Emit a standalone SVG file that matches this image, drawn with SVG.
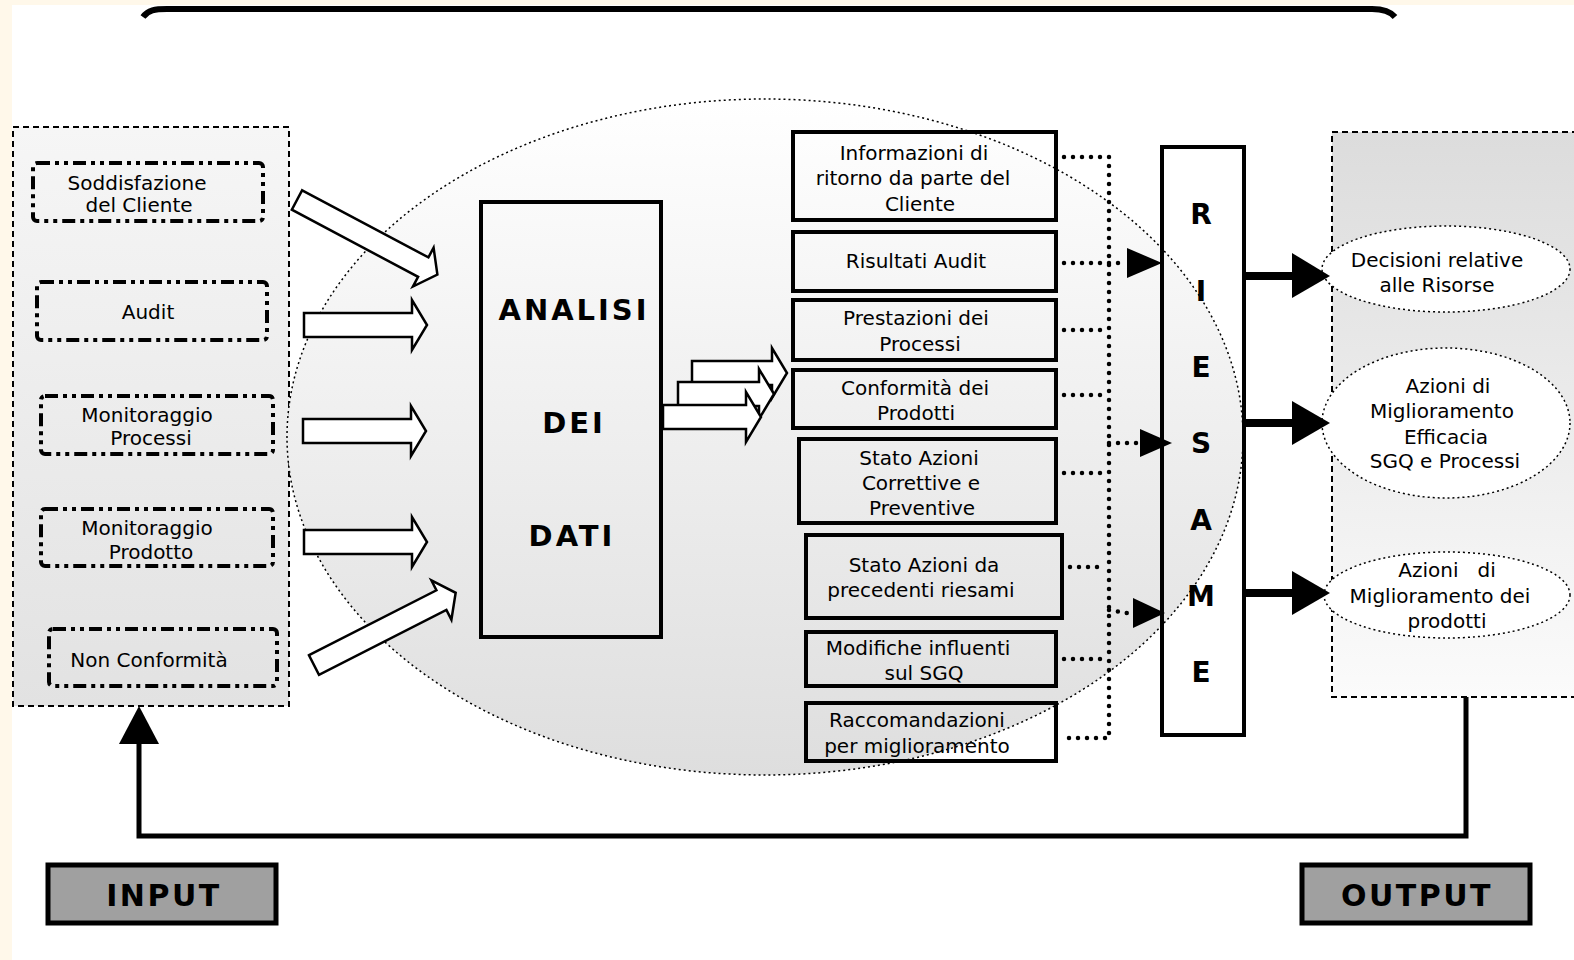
<svg xmlns="http://www.w3.org/2000/svg" width="1574" height="960" viewBox="0 0 1574 960">
<defs>
<linearGradient id="gIn" x1="0" y1="0" x2="0" y2="1"><stop offset="0" stop-color="#f6f6f6"/><stop offset="1" stop-color="#e2e2e2"/></linearGradient>
<linearGradient id="gOut" x1="0" y1="0" x2="0" y2="1"><stop offset="0" stop-color="#dcdcdc"/><stop offset="1" stop-color="#fbfbfb"/></linearGradient>
<linearGradient id="gEl" x1="0" y1="0" x2="0" y2="1"><stop offset="0" stop-color="#ffffff"/><stop offset="1" stop-color="#dedede"/></linearGradient>
<style>
text{font-family:"DejaVu Sans",Verdana,sans-serif;fill:#000}
.t{font-size:20px;text-anchor:middle}
.b{font-weight:bold;text-anchor:middle}
.panel{stroke:#000;stroke-width:2;stroke-dasharray:6 4}
.dd{fill:none;stroke:#000;stroke-width:4;stroke-dasharray:13 5 4 5 4 5}
.box{fill:none;stroke:#000;stroke-width:4}
.blk{fill:#fff;stroke:#000;stroke-width:2.5;stroke-linejoin:miter}
.dot{fill:none;stroke:#000;stroke-width:4.5;stroke-linecap:round;stroke-dasharray:0 9}
.ell{stroke:#000;stroke-width:1.5;stroke-dasharray:2 3}
.thick{fill:none;stroke:#000;stroke-width:8}
</style>
</defs>
<rect x="0" y="0" width="1574" height="960" fill="#fff8ea"/>
<rect x="12" y="5" width="1562" height="955" fill="#ffffff"/>
<path d="M143,17 C148,10 155,9 167,9 L1372,9 C1382,9 1390,11 1395,17" fill="none" stroke="#000" stroke-width="6"/>

<g id="input-panel">
<rect x="13" y="127" width="276" height="579" fill="url(#gIn)" class="panel"/>
</g>
<g id="soddisfazione"><rect x="33" y="163" width="230" height="58" rx="4" class="dd"/><text class="t" x="137" y="190">Soddisfazione</text><text class="t" x="139" y="212">del Cliente</text></g>
<g id="audit"><rect x="37" y="282" width="230" height="58" rx="4" class="dd"/><text class="t" x="148" y="319">Audit</text></g>
<g id="mon-processi"><rect x="41" y="396" width="232" height="58" rx="4" class="dd"/><text class="t" x="147" y="422">Monitoraggio</text><text class="t" x="151" y="445">Processi</text></g>
<g id="mon-prodotto"><rect x="41" y="509" width="232" height="57" rx="4" class="dd"/><text class="t" x="147" y="535">Monitoraggio</text><text class="t" x="151" y="559">Prodotto</text></g>
<g id="non-conformita"><rect x="49" y="629" width="228" height="57" rx="4" class="dd"/><text class="t" x="149" y="667">Non Conformità</text></g>

<g id="big-ellipse"><ellipse cx="765" cy="437" rx="478" ry="338" fill="url(#gEl)" class="ell"/></g>

<g id="output-panel"><rect x="1332" y="132" width="260" height="565" fill="url(#gOut)" class="panel"/></g>
<g id="decisioni"><ellipse cx="1446" cy="269" rx="124" ry="43" fill="#fff" class="ell"/><text class="t" x="1437" y="267">Decisioni relative</text><text class="t" x="1437" y="292">alle Risorse</text></g>
<g id="azioni-efficacia"><ellipse cx="1446" cy="423" rx="124" ry="75" fill="#fff" class="ell"/><text class="t" x="1448" y="393">Azioni di</text><text class="t" x="1442" y="418">Miglioramento</text><text class="t" x="1446" y="444">Efficacia</text><text class="t" x="1445" y="468">SGQ e Processi</text></g>
<g id="azioni-prodotti"><ellipse cx="1447" cy="595" rx="123" ry="43" fill="#fff" class="ell"/><text class="t" x="1447" y="577" xml:space="preserve">Azioni   di</text><text class="t" x="1440" y="603">Miglioramento dei</text><text class="t" x="1447" y="628">prodotti</text></g>

<g id="analisi-dati"><rect x="481" y="202" width="180" height="435" class="box"/>
<text class="b" x="574" y="320" font-size="29" letter-spacing="3">ANALISI</text>
<text class="b" x="574" y="433" font-size="29" letter-spacing="3">DEI</text>
<text class="b" x="572" y="546" font-size="29" letter-spacing="3">DATI</text></g>

<g id="informazioni"><rect x="793" y="132" width="263" height="88" class="box"/><text class="t" x="914" y="160">Informazioni di</text><text class="t" x="913" y="185">ritorno da parte del</text><text class="t" x="920" y="211">Cliente</text></g>
<g id="risultati-audit"><rect x="793" y="232" width="263" height="59" class="box"/><text class="t" x="916" y="268">Risultati Audit</text></g>
<g id="prestazioni"><rect x="793" y="300" width="263" height="60" class="box"/><text class="t" x="916" y="325">Prestazioni dei</text><text class="t" x="920" y="351">Processi</text></g>
<g id="conformita"><rect x="793" y="370" width="263" height="58" class="box"/><text class="t" x="915" y="395">Conformità dei</text><text class="t" x="916" y="420">Prodotti</text></g>
<g id="stato-correttive"><rect x="799" y="439" width="257" height="84" class="box"/><text class="t" x="919" y="465">Stato Azioni</text><text class="t" x="921" y="490">Correttive e</text><text class="t" x="922" y="515">Preventive</text></g>
<g id="stato-riesami"><rect x="806" y="535" width="256" height="83" class="box"/><text class="t" x="924" y="572">Stato Azioni da</text><text class="t" x="921" y="597">precedenti riesami</text></g>
<g id="modifiche"><rect x="806" y="632" width="250" height="54" class="box"/><text class="t" x="918" y="655">Modifiche influenti</text><text class="t" x="924" y="680">sul SGQ</text></g>
<g id="raccomandazioni"><rect x="806" y="703" width="250" height="58" class="box"/><text class="t" x="917" y="727">Raccomandazioni</text><text class="t" x="917" y="753">per miglioramento</text></g>

<g id="riesame"><rect x="1162" y="147" width="82" height="588" class="box"/>
<g font-size="28"><text class="b" x="1201" y="224">R</text><text class="b" x="1201" y="301">I</text><text class="b" x="1201" y="377">E</text><text class="b" x="1201" y="453">S</text><text class="b" x="1201" y="530">A</text><text class="b" x="1201" y="606">M</text><text class="b" x="1201" y="682">E</text></g></g>

<g id="input-box"><rect x="48" y="865" width="228" height="58" fill="#a0a0a0" stroke="#000" stroke-width="5"/><text class="b" x="164" y="906" font-size="30" letter-spacing="2.5">INPUT</text></g>
<g id="output-box"><rect x="1302" y="865" width="228" height="58" fill="#a0a0a0" stroke="#000" stroke-width="5"/><text class="b" x="1417" y="906" font-size="30" letter-spacing="2.5">OUTPUT</text></g>

<g id="connectors">
<polygon class="blk" transform="translate(297,200) rotate(28)" points="0,-11 143,-11 143,-22 159,0 143,22 143,11 0,11"/>
<polygon class="blk" points="304,313 412,313 412,300 427,325 412,350 412,337 304,337"/>
<polygon class="blk" points="303,419 411,419 411,406 426,431 411,456 411,443 303,443"/>
<polygon class="blk" points="304,530 412,530 412,517 427,542 412,567 412,554 304,554"/>
<polygon class="blk" transform="translate(314,665) rotate(-27)" points="0,-11 143,-11 143,-22 159,0 143,22 143,11 0,11"/>
<polygon class="blk" points="692,361 772,361 772,348 787,373 772,398 772,385 692,385"/>
<polygon class="blk" points="678,382 759,382 759,369 774,394 759,419 759,406 678,406"/>
<polygon class="blk" points="663,405 746,405 746,392 761,417 746,442 746,429 663,429"/>

<path class="dot" d="M1064,157 H1109 V738 H1064"/>
<path class="dot" d="M1064,263 H1125"/>
<path class="dot" d="M1064,330 H1105"/>
<path class="dot" d="M1064,395 H1105"/>
<path class="dot" d="M1064,473 H1105"/>
<path class="dot" d="M1070,567 H1105"/>
<path class="dot" d="M1064,659 H1105"/>
<path class="dot" d="M1109,443 H1138"/>
<path class="dot" d="M1109,610 L1132,614"/>
<polygon points="1127,248 1162,263 1127,278" fill="#000"/>
<polygon points="1140,429 1172,443 1140,457" fill="#000"/>
<polygon points="1133,598 1165,613 1133,628" fill="#000"/>

<line class="thick" x1="1246" y1="276" x2="1296" y2="276"/>
<polygon points="1292,253 1330,276 1292,298" fill="#000"/>
<line class="thick" x1="1246" y1="423" x2="1296" y2="423"/>
<polygon points="1292,401 1330,423 1292,445" fill="#000"/>
<line class="thick" x1="1246" y1="593" x2="1296" y2="593"/>
<polygon points="1292,571 1330,593 1292,615" fill="#000"/>

<path d="M1466,697 V836 H139 V740" fill="none" stroke="#000" stroke-width="5"/>
<polygon points="139,706 119,744 159,744" fill="#000"/>
</g>
</svg>
